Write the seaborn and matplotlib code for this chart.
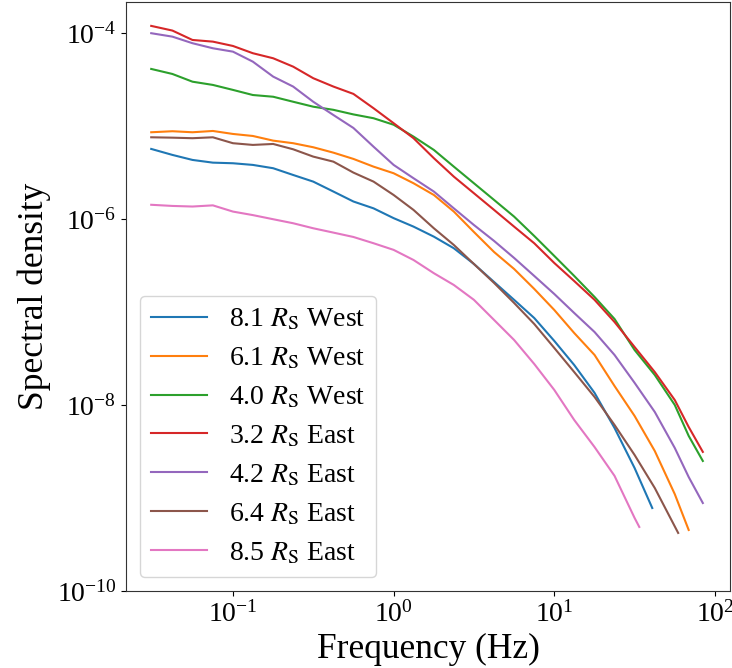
import matplotlib
matplotlib.use("Agg")
import matplotlib.pyplot as plt
import matplotlib.ticker as mticker
import seaborn as sns
import pandas as pd

# ---------------- data ----------------
freq = [0.031, 0.042, 0.056, 0.075, 0.1, 0.133, 0.178, 0.237, 0.316, 0.422,
        0.562, 0.75, 1.0, 1.33, 1.78, 2.37, 3.16, 4.22, 5.62, 7.5,
        10.0, 13.3, 17.8, 23.7, 31.6, 42.2, 56.2, 68.6, 84.0]

labels = [r"8.1 $R_\mathrm{S}$ West", r"6.1 $R_\mathrm{S}$ West", r"4.0 $R_\mathrm{S}$ West",
          r"3.2 $R_\mathrm{S}$ East", r"4.2 $R_\mathrm{S}$ East", r"6.4 $R_\mathrm{S}$ East",
          r"8.5 $R_\mathrm{S}$ East"]

west_8_1 = [5.66e-6, 4.88e-6, 4.31e-6, 4.03e-6, 3.97e-6, 3.81e-6, 3.51e-6, 2.97e-6, 2.52e-6, 1.97e-6,
            1.54e-6, 1.30e-6, 1.02e-6, 8.27e-7, 6.45e-7, 4.84e-7, 3.28e-7, 2.10e-7, 1.35e-7, 8.61e-8,
            4.88e-8, 2.69e-8, 1.35e-8, 5.66e-9, 2.10e-9, 7.80e-10]
west_6_1 = [8.55e-6, 8.77e-6, 8.55e-6, 8.83e-6, 8.20e-6, 7.80e-6, 6.95e-6, 6.52e-6, 5.90e-6, 5.16e-6,
            4.42e-6, 3.65e-6, 3.10e-6, 2.42e-6, 1.81e-6, 1.20e-6, 7.24e-7, 4.41e-7, 2.90e-7, 1.77e-7,
            1.05e-7, 5.94e-8, 3.45e-8, 1.60e-8, 7.62e-9, 3.20e-9, 1.10e-9, 4.53e-10]
west_4_0 = [4.10e-5, 3.62e-5, 2.99e-5, 2.76e-5, 2.44e-5, 2.15e-5, 2.06e-5, 1.82e-5, 1.61e-5, 1.49e-5,
            1.33e-5, 1.21e-5, 1.03e-5, 7.68e-6, 5.52e-6, 3.65e-6, 2.42e-6, 1.60e-6, 1.06e-6, 6.56e-7,
            4.00e-7, 2.44e-7, 1.45e-7, 8.41e-8, 3.90e-8, 2.10e-8, 1.00e-8, 4.65e-9, 2.50e-9]
east_3_2 = [1.19e-4, 1.06e-4, 8.40e-5, 8.06e-5, 7.24e-5, 6.05e-5, 5.34e-5, 4.34e-5, 3.26e-5, 2.65e-5,
            2.21e-5, 1.55e-5, 1.07e-5, 7.38e-6, 4.50e-6, 2.85e-6, 1.89e-6, 1.25e-6, 8.27e-7, 5.48e-7,
            3.36e-7, 2.15e-7, 1.35e-7, 7.80e-8, 4.20e-8, 2.26e-8, 1.13e-8, 5.80e-9, 3.13e-9]
east_4_2 = [9.93e-5, 9.12e-5, 7.75e-5, 6.84e-5, 6.29e-5, 4.91e-5, 3.39e-5, 2.65e-5, 1.82e-5, 1.31e-5,
            9.51e-6, 5.98e-6, 3.81e-6, 2.74e-6, 1.97e-6, 1.30e-6, 8.61e-7, 5.80e-7, 3.81e-7, 2.44e-7,
            1.56e-7, 9.75e-8, 6.09e-8, 3.45e-8, 1.73e-8, 8.41e-9, 3.45e-9, 1.68e-9, 8.83e-10]
east_6_4 = [7.55e-6, 7.48e-6, 7.38e-6, 7.55e-6, 6.52e-6, 6.25e-6, 6.40e-6, 5.61e-6, 4.68e-6, 4.13e-6,
            3.15e-6, 2.52e-6, 1.81e-6, 1.25e-6, 7.94e-7, 5.25e-7, 3.28e-7, 2.05e-7, 1.25e-7, 7.43e-8,
            4.10e-8, 2.26e-8, 1.22e-8, 6.10e-9, 2.90e-9, 1.28e-9, 4.21e-10]
east_8_5 = [1.42e-6, 1.38e-6, 1.36e-6, 1.40e-6, 1.20e-6, 1.10e-6, 9.93e-7, 8.99e-7, 7.94e-7, 7.13e-7,
            6.40e-7, 5.48e-7, 4.65e-7, 3.62e-7, 2.61e-7, 1.95e-7, 1.35e-7, 8.20e-8, 5.00e-8, 2.76e-8,
            1.45e-8, 6.90e-9, 3.53e-9, 1.73e-9, 6.10e-10, 4.88e-10]

# last sample frequency of each series (series end off the shared grid)
last_freq = [40.7, 68.6, 84.0, 84.0, 84.0, 59.0, 33.8]

series = [west_8_1, west_6_1, west_4_0, east_3_2, east_4_2, east_6_4, east_8_5]

rows = []
for lab, vals, fend in zip(labels, series, last_freq):
    fx = freq[:len(vals) - 1] + [fend]
    for f, v in zip(fx, vals):
        rows.append({"Frequency": f, "Density": v, "Series": lab})
df = pd.DataFrame(rows)

# ---------------- style ----------------
plt.rcParams["font.family"] = ["Liberation Serif", "DejaVu Serif"]
plt.rcParams["mathtext.fontset"] = "stix"

colors = ["#1f77b4", "#ff7f0e", "#2ca02c", "#d62728", "#9467bd", "#8c564b", "#e377c2"]

fig = plt.figure(figsize=(7.32, 6.68), dpi=100)
ax = fig.add_axes([126 / 732, 77 / 668, 604 / 732, 589 / 668])

ax.set_xscale("log")
ax.set_yscale("log")
sns.lineplot(data=df, x="Frequency", y="Density", hue="Series", hue_order=labels,
             palette=colors, linewidth=1.5, estimator=None, sort=False, ax=ax)

ax.set_xlim(0.0216, 124)
ax.set_ylim(1e-10, 2.15e-4)
ax.xaxis.set_major_locator(mticker.LogLocator(base=10, numticks=20))
ax.yaxis.set_major_locator(mticker.FixedLocator([1e-10, 1e-8, 1e-6, 1e-4]))
ax.xaxis.set_minor_locator(mticker.NullLocator())
ax.yaxis.set_minor_locator(mticker.NullLocator())
ax.tick_params(labelsize=20)

ax.set_xlabel("Frequency (Hz)", fontsize=25.5)
ax.set_ylabel("Spectral density", fontsize=25.5)

for sp in ax.spines.values():
    sp.set_color("#333333")

leg = ax.get_legend()
handles = leg.legend_handles
texts = [t.get_text() for t in leg.get_texts()]
ax.legend(handles, texts, loc="lower left", fontsize=20, labelspacing=0.48)

fig.savefig("out.png", dpi=100)
